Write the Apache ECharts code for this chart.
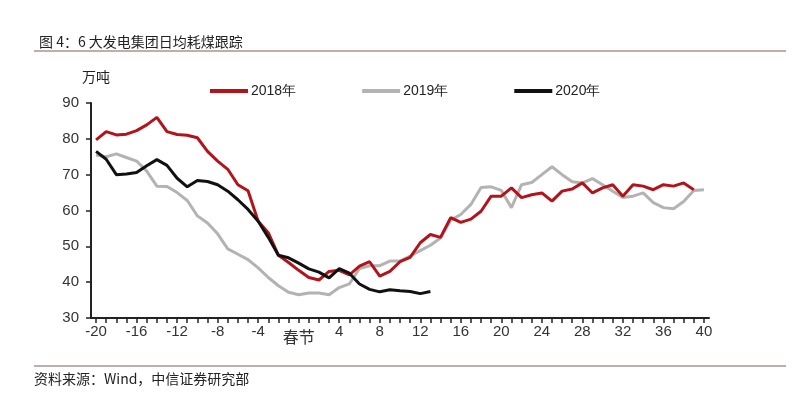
<!DOCTYPE html>
<html>
<head>
<meta charset="utf-8">
<script src="https://cdn.jsdelivr.net/npm/echarts@6/dist/echarts.min.js"></script>
<style>
html,body{margin:0;padding:0;background:#fff;}
#chart{width:800px;height:399px;}
</style>
</head>
<body>
<div id="chart"></div>
<script>
// Categories: weeks/days relative to Spring Festival (0 = 春节)
const categories = [];
for (let i = -20; i <= 40; i++) categories.push(String(i));

const seriesNames = ['2018年', '2019年', '2020年'];

const values2018 = [
  79.7, 82.0, 81.1, 81.3, 82.3, 83.9, 86.0, 82.0, 81.2, 81.0,
  80.3, 76.5, 73.8, 71.5, 67.2, 65.5, 57.0, 53.8, 47.5, 45.5,
  43.3, 41.3, 40.6, 43.0, 43.3, 42.0, 44.5, 45.7, 41.7, 43.0,
  45.7, 46.9, 51.0, 53.3, 52.5, 58.0, 56.7, 57.6, 59.8, 64.0,
  64.0, 66.3, 63.6, 64.4, 64.9, 62.6, 65.4, 66.0, 67.7, 64.9,
  66.3, 67.2, 64.0, 67.2, 66.8, 65.8, 67.2, 66.8, 67.7, 65.8,
  null
];
const values2019 = [
  75.5, 75.0, 75.8, 74.8, 73.8, 71.0, 66.8, 66.7, 65.0, 62.8,
  58.5, 56.5, 53.5, 49.3, 47.8, 46.3, 44.0, 41.3, 39.0, 37.2,
  36.5, 37.0, 37.0, 36.5, 38.5, 39.5, 43.8, 44.6, 44.6, 45.9,
  45.9, 47.3, 48.8, 50.3, 52.3, 57.3, 58.9, 61.7, 66.4, 66.6,
  65.6, 60.8, 67.2, 67.8, 70.0, 72.2, 70.0, 68.0, 67.7, 68.9,
  67.2, 65.4, 63.6, 64.0, 64.9, 62.2, 60.8, 60.5, 62.5, 65.6,
  65.8
];
const values2020 = [
  76.5, 74.3, 70.0, 70.2, 70.6, 72.5, 74.2, 72.6, 69.0, 66.6,
  68.4, 68.1, 67.2, 65.4, 63.0, 60.3, 57.0, 52.5, 47.5, 46.8,
  45.3, 43.7, 42.8, 41.2, 43.8, 42.5, 39.5, 38.0, 37.3, 37.9,
  37.6, 37.4, 36.8, 37.4
];

const yTicks = [30, 40, 50, 60, 70, 80, 90];
const colors = ['#b3141c', '#b3b3b3', '#111111'];

const numFont = '"Liberation Sans Narrow", "Arial Narrow", "Liberation Sans", Arial, sans-serif';
const cjkFont = '"Noto Sans CJK SC", "Liberation Sans", sans-serif';

const chart = echarts.init(document.getElementById('chart'), null, {renderer: 'canvas'});
chart.setOption({
  backgroundColor: '#ffffff',
  animation: false,
  color: colors,
  title: {
    text: '图 4：6 大发电集团日均耗煤跟踪',
    left: 34, top: 30,
    textStyle: {fontFamily: cjkFont, fontSize: 14, fontWeight: 'normal', color: '#222'}
  },
  graphic: [
    {type: 'line', shape: {x1: 34, y1: 51, x2: 786, y2: 51}, style: {stroke: '#a8958f', lineWidth: 1.5}},
    {type: 'line', shape: {x1: 34, y1: 366, x2: 786, y2: 366}, style: {stroke: '#a8958f', lineWidth: 1.5}},
    {type: 'text', left: 34, top: 372, style: {text: '资料来源：Wind，中信证券研究部', fontFamily: cjkFont, fontSize: 14, fill: '#222'}},
    {type: 'text', left: 82, top: 70, style: {text: '万吨', fontFamily: cjkFont, fontSize: 14, fill: '#222'}}
  ],
  legend: {
    data: seriesNames,
    left: 205, top: 79,
    icon: 'rect',
    itemWidth: 38, itemHeight: 4,
    itemGap: 66,
    textStyle: {fontFamily: numFont, fontSize: 14, color: '#222', padding: [0, 0, 0, -2]}
  },
  grid: {left: 91, right: 91, top: 103, bottom: 81, containLabel: false},
  xAxis: {
    type: 'category',
    data: categories,
    boundaryGap: true,
    axisLine: {lineStyle: {color: '#222', width: 2}},
    axisTick: {show: true, interval: 0, alignWithLabel: true, length: 5, lineStyle: {color: '#222', width: 1.5}},
    axisLabel: {
      interval: 3,
      margin: 6,
      fontFamily: numFont, fontSize: 15, color: '#333',
      formatter: function (v) { return v === '0' ? '{sf|春节}' : v; },
      rich: {sf: {fontFamily: cjkFont, fontSize: 16, color: '#333', padding: [5, 0, 0, 0]}}
    },
    splitLine: {show: false}
  },
  yAxis: {
    type: 'value',
    min: yTicks[0], max: yTicks[yTicks.length - 1], interval: 10,
    axisLine: {show: true, lineStyle: {color: '#222', width: 2}},
    axisTick: {show: true, length: 5, lineStyle: {color: '#222', width: 1.5}},
    axisLabel: {margin: 12, fontFamily: numFont, fontSize: 15, color: '#333'},
    splitLine: {show: false}
  },
  series: [
    {name: seriesNames[0], type: 'line', data: values2018, showSymbol: false, symbol: 'none', lineStyle: {width: 3, color: colors[0]}, z: 3},
    {name: seriesNames[1], type: 'line', data: values2019, showSymbol: false, symbol: 'none', lineStyle: {width: 3, color: colors[1]}, z: 2},
    {name: seriesNames[2], type: 'line', data: values2020, showSymbol: false, symbol: 'none', lineStyle: {width: 3, color: colors[2]}, z: 4}
  ]
});
</script>
</body>
</html>
